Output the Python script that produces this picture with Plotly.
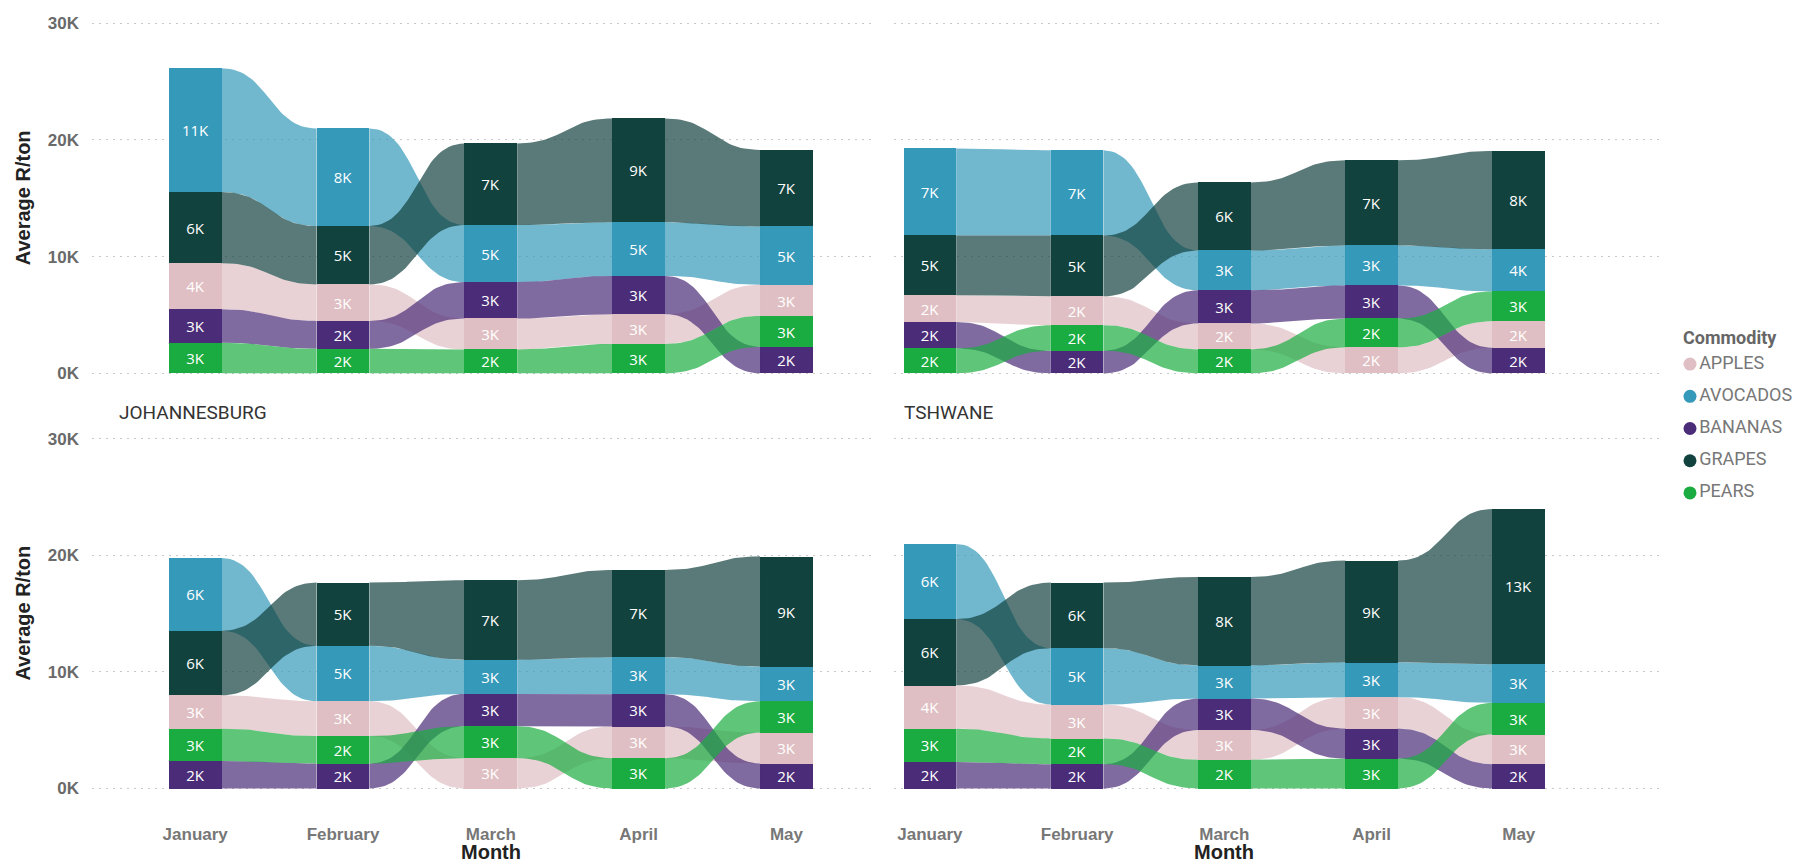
import plotly.graph_objects as go

# ---------------- data ----------------
months = ["January", "February", "March", "April", "May"]
commodities = ["APPLES", "AVOCADOS", "BANANAS", "GRAPES", "PEARS"]
y_tick_vals = [0, 10000, 20000, 30000]
y_tick_text = ["0K", "10K", "20K", "30K"]
panel_titles = ["", "", "JOHANNESBURG", "TSHWANE"]

# Average R/ton per month (Jan..May)
top_left = {
    "APPLES":   [3950, 3130, 2640, 2550, 2670],
    "AVOCADOS": [10600, 8360, 4890, 4600, 4980],
    "BANANAS":  [2870, 2390, 3130, 3270, 2270],
    "GRAPES":   [6100, 5000, 6990, 8900, 6570],
    "PEARS":    [2620, 2100, 2050, 2520, 2650],
}
top_right = {
    "APPLES":   [2300, 2480, 2220, 2220, 2270],
    "AVOCADOS": [7450, 7310, 3410, 3420, 3610],
    "BANANAS":  [2260, 1930, 2840, 2840, 2190],
    "GRAPES":   [5120, 5200, 5830, 7300, 8420],
    "PEARS":    [2130, 2190, 2050, 2470, 2560],
}
johannesburg = {
    "APPLES":   [2870, 2990, 2590, 2730, 2650],
    "AVOCADOS": [6230, 4750, 2930, 3180, 2980],
    "BANANAS":  [2360, 2130, 2780, 2760, 2130],
    "GRAPES":   [5540, 5430, 6830, 7480, 9450],
    "PEARS":    [2760, 2360, 2740, 2590, 2700],
}
tshwane = {
    "APPLES":   [3720, 2900, 2560, 2700, 2550],
    "AVOCADOS": [6450, 4840, 2850, 2990, 3320],
    "BANANAS":  [2270, 2080, 2700, 2580, 2080],
    "GRAPES":   [5690, 5630, 7590, 8730, 13310],
    "PEARS":    [2850, 2210, 2450, 2550, 2710],
}

colors = {
    "APPLES": (223, 191, 195),
    "AVOCADOS": (53, 153, 185),
    "BANANAS": (74, 44, 120),
    "GRAPES": (18, 66, 62),
    "PEARS": (26, 172, 64),
}

# ---------------- layout helpers ----------------
W, H = 1800, 863
def py(p):
    return 1 - p / H

BW = 0.357
panels = [
    (top_left, "x", "y"),
    (top_right, "x2", "y2"),
    (johannesburg, "x3", "y3"),
    (tshwane, "x4", "y4"),
]

def hexc(c):
    return "rgb(%d,%d,%d)" % c

def rgba(c, a):
    return "rgba(%d,%d,%d,%.2f)" % (c[0], c[1], c[2], a)

def bezier(x0, y0, x1, y1, n=32):
    xm = (x0 + x1) / 2
    xs, ys = [], []
    for k in range(n + 1):
        t = k / n
        a, b, c, d = (1 - t) ** 3, 3 * (1 - t) ** 2 * t, 3 * (1 - t) * t ** 2, t ** 3
        xs.append(a * x0 + (b + c) * xm + d * x1)
        ys.append((a + b) * y0 + (c + d) * y1)
    return xs, ys

fig = go.Figure()

for data, xa, ya in panels:
    n = len(months)
    bases = {c: [0] * n for c in commodities}
    for j in range(n):
        order = sorted(commodities, key=lambda c: data[c][j])
        acc = 0
        for c in order:
            bases[c][j] = acc
            acc += data[c][j]
    # ribbons
    for c in commodities:
        for j in range(n - 1):
            x0 = j + BW / 2
            x1 = j + 1 - BW / 2
            b0, t0 = bases[c][j], bases[c][j] + data[c][j]
            b1, t1 = bases[c][j + 1], bases[c][j + 1] + data[c][j + 1]
            tx, ty = bezier(x0, t0, x1, t1)
            bx, by = bezier(x1, b1, x0, b0)
            fig.add_trace(go.Scatter(
                x=tx + bx + [tx[0]], y=ty + by + [ty[0]],
                fill="toself", fillcolor=rgba(colors[c], 0.7),
                mode="lines", line=dict(width=0, color=rgba(colors[c], 0)),
                xaxis=xa, yaxis=ya, hoverinfo="skip", showlegend=False))
    # bars
    for c in commodities:
        fig.add_trace(go.Bar(
            x=list(range(n)), y=data[c], base=bases[c], width=BW,
            marker=dict(color=hexc(colors[c]), line=dict(width=0)),
            text=["%dK" % round(v / 1000) for v in data[c]],
            textposition="inside", insidetextanchor="middle", textangle=0,
            textfont=dict(color="white", size=15, family="Open Sans"),
            xaxis=xa, yaxis=ya, hoverinfo="skip", showlegend=False))

# legend as a trace on a hidden axis
fig.add_trace(go.Scatter(
    x=[0] * len(commodities), y=list(range(len(commodities))),
    mode="markers+text", text=commodities, textposition="middle right",
    marker=dict(size=13, color=[hexc(colors[c]) for c in commodities]),
    textfont=dict(size=18, color="#777777", family="Roboto"),
    xaxis="x5", yaxis="y5", hoverinfo="skip", showlegend=False, cliponaxis=False))

tick_font_y = dict(family="Liberation Sans", size=17, color="#6a6a6a", weight="bold")
tick_font_x = dict(family="Liberation Sans", size=17, color="#777777", weight="bold")
grid = dict(showgrid=True, gridcolor="#c9c9c9", gridwidth=1, griddash="2px,5px",
            zeroline=False, showline=False, ticks="")

left_dom = [92 / W, 875 / W]
right_dom = [894 / W, 1662 / W]
left_rng = [-0.698, 4.599]
right_rng = [-0.244, 4.973]
top_dom = [py(380.5), py(14.3)]
bot_dom = [py(798.0), py(432.3)]
yr = [-600, 30600]

def xax(dom, rng, anchor, show):
    return dict(domain=dom, range=rng, anchor=anchor, showgrid=False, zeroline=False,
                showline=False, ticks="", tickvals=list(range(len(months))), ticktext=months,
                showticklabels=show, tickfont=tick_font_x, ticklabelstandoff=27, fixedrange=True)

def yax(dom, anchor, show):
    return dict(domain=dom, range=yr, anchor=anchor, tickvals=y_tick_vals, ticktext=y_tick_text,
                showticklabels=show, tickfont=tick_font_y, ticklabelstandoff=12, fixedrange=True, **grid)

annotations = []
for ya_ref, xa_ref in [("y domain", "x"), ("y3 domain", "x3")]:
    annotations.append(dict(text="Average R/ton", xref="paper", yref=ya_ref, x=23 / W, y=0.5,
                            textangle=-90, showarrow=False, xanchor="center", yanchor="middle",
                            font=dict(family="Liberation Sans", size=20, color="#222222", weight="bold")))
for xa_ref in ["x3", "x4"]:
    annotations.append(dict(text="Month", xref=xa_ref, yref="paper", x=2, y=py(855),
                            showarrow=False, xanchor="center", yanchor="middle",
                            font=dict(family="Liberation Sans", size=20, color="#222222", weight="bold")))
annotations.append(dict(text=panel_titles[2], xref="paper", yref="paper", x=117 / W, y=py(413),
                        showarrow=False, xanchor="left", yanchor="middle",
                        font=dict(family="Roboto", size=19, color="#333333")))
annotations.append(dict(text=panel_titles[3], xref="paper", yref="paper", x=902 / W, y=py(413),
                        showarrow=False, xanchor="left", yanchor="middle",
                        font=dict(family="Roboto", size=19, color="#333333")))
annotations.append(dict(text="Commodity", xref="paper", yref="paper", x=1681 / W, y=py(337),
                        showarrow=False, xanchor="left", yanchor="middle",
                        font=dict(family="Roboto", size=18, color="#666666", weight="bold")))

fig.update_layout(
    width=W, height=H, margin=dict(l=0, r=0, t=0, b=0),
    paper_bgcolor="white", plot_bgcolor="white",
    barmode="overlay", bargap=0, hovermode=False, showlegend=False,
    uniformtext=dict(minsize=15, mode="show"),
    xaxis=xax(left_dom, left_rng, "y", False),
    xaxis2=xax(right_dom, right_rng, "y2", False),
    xaxis3=xax(left_dom, left_rng, "y3", True),
    xaxis4=xax(right_dom, right_rng, "y4", True),
    yaxis=yax(top_dom, "x", True),
    yaxis2=yax(top_dom, "x2", False),
    yaxis3=yax(bot_dom, "x3", True),
    yaxis4=yax(bot_dom, "x4", False),
    xaxis5=dict(domain=[1682 / W, 1.0], range=[-8, 110], visible=False, fixedrange=True, anchor="y5"),
    yaxis5=dict(domain=[py(510), py(348)], range=[4.5, -0.5], visible=False, fixedrange=True, anchor="x5"),
    annotations=annotations,
)

fig.write_html("out.html", config={"displayModeBar": False})
